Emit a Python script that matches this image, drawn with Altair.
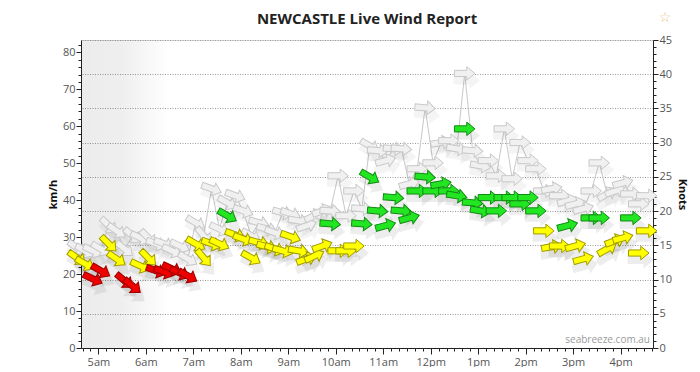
import altair as alt
import pandas as pd

# ---------------- data ----------------
times = ["04:33", "04:43", "04:53", "05:03", "05:13", "05:23", "05:33", "05:43", "05:53",
         "06:03", "06:13", "06:23", "06:33", "06:43", "06:53", "07:03", "07:13", "07:23",
         "07:33", "07:43", "07:53", "08:03", "08:13", "08:23", "08:33", "08:43", "08:53",
         "09:03", "09:13", "09:23", "09:33", "09:43", "09:53", "10:03", "10:13", "10:23",
         "10:33", "10:43", "10:53", "11:03", "11:13", "11:23", "11:33", "11:43", "11:53",
         "12:03", "12:13", "12:23", "12:33", "12:43", "12:53", "13:03", "13:13", "13:23",
         "13:33", "13:43", "13:53", "14:03", "14:13", "14:23", "14:33", "14:43", "14:53",
         "15:03", "15:13", "15:23", "15:33", "15:43", "15:53", "16:03", "16:13", "16:23",
         "16:33"]

wind_kmh = [24.4, 22.8, 18.7, 20.9, 28.2, 24.1, 18.2, 16.8, 22.2, 24.4, 20.9, 20.6, 21.4,
            20.3, 19.5, 28.2, 24.4, 28.2, 28.2, 35.8, 30.6, 29.5, 24.4, 28.5, 27.4, 26.8,
            26.3, 30.1, 26.3, 24.1, 24.9, 27.6, 33.6, 26.3, 26.3, 27.6, 33.6, 46.3, 37.1,
            33.1, 40.7, 37.1, 35.2, 42.5, 46.3, 42.5, 44.4, 42.5, 41.2, 59.3, 39.3, 37.1,
            40.7, 37.1, 40.7, 40.7, 39.0, 40.7, 37.1, 31.7, 27.4, 27.6, 33.1, 27.6, 24.1,
            35.2, 35.2, 26.8, 29.0, 29.8, 35.2, 25.7, 31.7]

gust_kmh = [27.1, 26.3, 26.3, 26.8, 33.1, 31.7, 26.8, 30.4, 29.8, 29.8, 28.2, 28.2, 26.3,
            27.6, 24.1, 33.9, 30.4, 43.1, 32.2, 39.3, 41.2, 37.1, 30.4, 33.9, 32.2, 31.2,
            36.6, 36.3, 34.4, 33.1, 35.8, 37.1, 37.1, 46.6, 35.8, 42.5, 37.7, 54.7, 53.4,
            50.7, 53.9, 53.9, 44.4, 48.5, 65.0, 50.1, 55.6, 56.1, 53.9, 74.3, 53.4, 49.3,
            50.7, 46.6, 59.3, 45.8, 55.6, 50.7, 48.5, 42.5, 43.1, 41.2, 39.8, 39.0, 37.7,
            42.5, 50.1, 41.7, 42.5, 44.7, 41.7, 39.0, 41.2]

# wind direction, compass degrees the wind blows from
direction_deg = [305, 300, 295, 300, 315, 305, 310, 310, 295, 315, 290, 290, 295, 295, 300,
                 300, 320, 290, 295, 300, 290, 290, 300, 285, 285, 290, 285, 290, 280, 250,
                 245, 250, 275, 270, 270, 270, 275, 300, 275, 255, 275, 275, 255, 270, 275,
                 270, 260, 270, 280, 270, 275, 280, 270, 270, 270, 270, 270, 270, 270, 270,
                 260, 270, 255, 255, 255, 270, 270, 240, 250, 255, 270, 270, 270]

speed_class = ["Y", "Y", "R", "R", "Y", "Y", "R", "R", "Y", "Y", "R", "R", "R", "R", "R",
               "Y", "Y", "Y", "Y", "G", "Y", "Y", "Y", "Y", "Y", "Y", "Y", "Y", "Y", "Y",
               "Y", "Y", "G", "Y", "Y", "Y", "G", "G", "G", "G", "G", "G", "G", "G", "G",
               "G", "G", "G", "G", "G", "G", "G", "G", "G", "G", "G", "G", "G", "G", "Y",
               "Y", "Y", "G", "Y", "Y", "G", "G", "Y", "Y", "Y", "G", "Y", "Y"]

class_names = ["R", "Y", "G"]
class_fill = ["#ee0000", "#ffff00", "#22e622"]
class_stroke = ["#990000", "#a09a00", "#128a12"]

title_text = "NEWCASTLE Live Wind Report"
watermark_text = "seabreeze.com.au"
star_text = "☆"

x_start, x_end = "04:38", "16:41"
night_start, night_end = "04:38", "06:30"
KMH_PER_KNOT = 1.852
KNOTS_MAX = 45

DAY = "2024-03-01T"

df = pd.DataFrame({
    "time": [DAY + t + ":00" for t in times],
    "wind": wind_kmh,
    "gust": gust_kmh,
    "dir": direction_deg,
    "cls": speed_class,
})
df["angle"] = (df["dir"] + 90) % 360
night_df = pd.DataFrame({"start": [DAY + night_start + ":00"], "end": [DAY + night_end + ":00"]})


def dt(hhmm):
    h, m = hhmm.split(":")
    return alt.DateTime(year=2024, month=3, date=1, hours=int(h), minutes=int(m))


# x ticks every 10 minutes; labels only on the hour
x_tick_values = []
for h in range(4, 17):
    for m in range(0, 60, 10):
        if (4, 40) <= (h, m) <= (16, 40):
            x_tick_values.append(alt.DateTime(year=2024, month=3, date=1, hours=h, minutes=m))

YMAX = KNOTS_MAX * KMH_PER_KNOT
xscale = alt.Scale(domain=[dt(x_start), dt(x_end)])
yscale = alt.Scale(domain=[0, YMAX], nice=False, zero=True)

FONT = "Open Sans"
x_axis = alt.Axis(
    values=x_tick_values, title=None, grid=False,
    labelExpr="minutes(datum.value) === 0 ? lower(timeFormat(datum.value, '%-I%p')) : ''",
    tickSize={"condition": {"test": "minutes(datum.value) === 0", "value": 6}, "value": 3},
    labelOverlap=False, labelFont=FONT, labelFontSize=11, labelColor="#555",
    labelPadding=2, domainColor="#222", tickColor="#222",
)
left_axis = alt.Axis(
    orient="left", values=list(range(0, 83, 2)), grid=False,
    labelExpr="datum.value % 10 === 0 ? datum.value : ''",
    tickSize={"condition": {"test": "datum.value % 10 === 0", "value": 5}, "value": 3},
    labelOverlap=False, labelFont=FONT, labelFontSize=11, labelColor="#555", labelPadding=1,
    domainColor="#222", tickColor="#222",
    title="km/h", titleFont=FONT, titleFontSize=11, titleFontWeight="bold", titleColor="#111",
    titlePadding=4,
)
knot_vals = [k * KMH_PER_KNOT for k in range(0, KNOTS_MAX + 1)]
right_axis = alt.Axis(
    orient="right", values=knot_vals,
    labelExpr="round(datum.value / 1.852) % 5 === 0 ? round(datum.value / 1.852) : ''",
    tickSize={"condition": {"test": "round(datum.value / 1.852) % 5 === 0", "value": 5}, "value": 3},
    grid=True, gridDash=[1, 1.5], gridColor="#9a9a9a",
    gridOpacity={"condition": {"test": "round(datum.value / 1.852) % 5 === 0 && datum.value > 0",
                               "value": 1}, "value": 0},
    labelOverlap=False, labelFont=FONT, labelFontSize=11, labelColor="#555", labelPadding=1,
    domainColor="#222", tickColor="#222",
    title="Knots", titleFont=FONT, titleFontSize=11, titleFontWeight="bold", titleColor="#111",
    titleAngle=90, titlePadding=5,
)

ARROW = "M-1,-0.3L0.2,-0.3L0.2,-0.66L1,0L0.2,0.66L0.2,0.3L-1,0.3Z"

X = alt.X("time:T", scale=xscale, axis=x_axis)
ANG = alt.Angle("angle:Q", scale=None)
base = alt.Chart(df)

night = alt.Chart(night_df).mark_rect(
    fill=alt.LinearGradient(
        gradient="linear", x1=0, x2=1, y1=0, y2=0,
        stops=[alt.GradientStop(color="rgba(0,0,0,0.075)", offset=0),
               alt.GradientStop(color="rgba(0,0,0,0.065)", offset=0.45),
               alt.GradientStop(color="rgba(0,0,0,0)", offset=1)])
).encode(
    x=alt.X("start:T", scale=xscale, axis=x_axis), x2="end:T",
    y=alt.YDatum(0, scale=yscale, axis=None), y2=alt.Y2Datum(YMAX),
)

gust_line = base.mark_line(color="#c8c8c8", strokeWidth=1).encode(
    x=X, y=alt.Y("gust:Q", scale=yscale, axis=left_axis),
)

shadow_g = base.mark_point(shape=ARROW, filled=True, color="#000", opacity=0.045,
                           size=700, yOffset=7, xOffset=2).encode(
    x=X, y=alt.Y("gust:Q", scale=yscale, axis=None), angle=ANG)
shadow_w = base.mark_point(shape=ARROW, filled=True, color="#000", opacity=0.07,
                           size=700, yOffset=7, xOffset=2).encode(
    x=X, y=alt.Y("wind:Q", scale=yscale, axis=None), angle=ANG)

gust_arrows = base.mark_point(shape=ARROW, size=420, opacity=1, strokeWidth=1).encode(
    x=X, y=alt.Y("gust:Q", scale=yscale, axis=None), angle=ANG,
    fill=alt.value("#f0f0f0"), stroke=alt.value("#c8c8c8"),
)

wind_arrows = base.mark_point(shape=ARROW, size=420, opacity=1, strokeWidth=1).encode(
    x=X, y=alt.Y("wind:Q", scale=yscale, axis=None), angle=ANG,
    fill=alt.Fill("cls:N", scale=alt.Scale(domain=class_names, range=class_fill), legend=None),
    stroke=alt.Stroke("cls:N", scale=alt.Scale(domain=class_names, range=class_stroke), legend=None),
)

knots_axis_layer = base.mark_point(opacity=0).encode(
    x=X, y=alt.Y("wind:Q", scale=yscale, axis=right_axis),
)

W, H = 572, 308
watermark = alt.Chart(pd.DataFrame({"t": [watermark_text]})).mark_text(
    align="right", baseline="alphabetic", font=FONT, fontSize=10, color="#9a9a9a"
).encode(text="t:N", x=alt.value(W - 3), y=alt.value(H - 5))

title = alt.Chart(pd.DataFrame({"t": [title_text]})).mark_text(
    align="center", baseline="middle", font=FONT, fontSize=15, fontWeight="bold", color="#222"
).encode(text="t:N", x=alt.value(W / 2), y=alt.value(-21))

star = alt.Chart(pd.DataFrame({"t": [star_text]})).mark_text(
    align="center", baseline="middle", font="DejaVu Sans", fontSize=14, color="#e8c48e"
).encode(text="t:N", x=alt.value(584), y=alt.value(-22))

chart = alt.layer(
    night, gust_line, shadow_g, shadow_w, gust_arrows, wind_arrows, knots_axis_layer,
    watermark, title, star,
).resolve_axis(y="independent").properties(
    width=W, height=H,
    padding={"left": 39, "top": 3, "right": 3, "bottom": 0},
).configure_view(stroke=None).configure(background="white")

chart.save("out.html", embed_options={"renderer": "svg", "actions": False})
